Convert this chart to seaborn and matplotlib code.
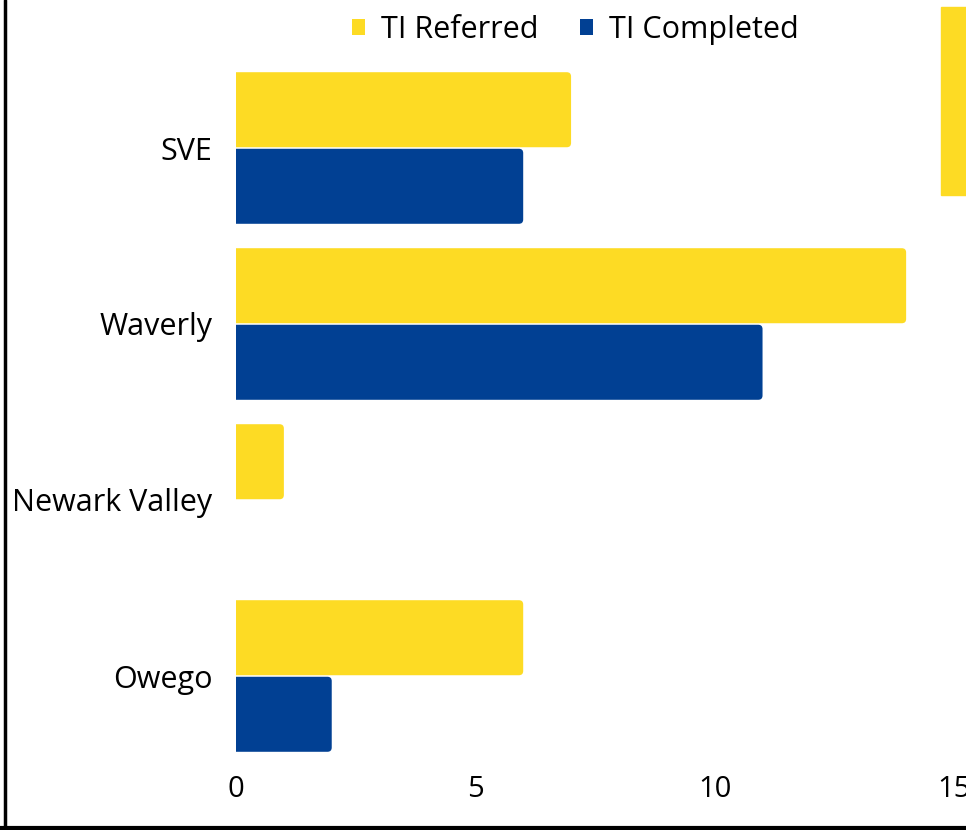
import pandas as pd
import seaborn as sns
import matplotlib.pyplot as plt
from matplotlib.patches import Rectangle, FancyBboxPatch
from matplotlib.lines import Line2D

schools = ["SVE", "Waverly", "Newark Valley", "Owego"]
referred = [7, 14, 1, 6]
completed = [6, 11, 0, 2]
series = ["TI Referred", "TI Completed"]

df = pd.DataFrame({
    "School": schools * 2,
    "Count": referred + completed,
    "Series": [series[0]] * len(schools) + [series[1]] * len(schools),
})

sns.set_style("white")
plt.rcParams['font.family'] = ['Open Sans', 'DejaVu Sans']
plt.rcParams['text.color'] = 'black'

fig = plt.figure(figsize=(9.66, 8.3), dpi=100)
ax = fig.add_axes([236 / 966, 1 - 764 / 830, (954 - 236) / 966, (764 - 60) / 830])

sns.barplot(data=df, y="School", x="Count", hue="Series", orient="h",
            palette=["#FDDB24", "#014093"], saturation=1, width=0.87, gap=0.02,
            linewidth=0, ax=ax, legend=True)

ax.set_xlim(0, 15)

# round the right-hand corners of the bars
for bar in list(ax.patches):
    if bar.get_width() <= 0:
        continue
    x, y = bar.get_x(), bar.get_y()
    w, h = bar.get_width(), bar.get_height()
    rounded = FancyBboxPatch((x - 0.3, y), w + 0.3, h,
                             boxstyle="round,pad=0,rounding_size=0.09",
                             mutation_aspect=0.27, facecolor=bar.get_facecolor(),
                             linewidth=0)
    ax.add_patch(rounded)
    bar.set_visible(False)

ax.set_xticks([0, 5, 10, 15])
ax.set_xlabel("")
ax.set_ylabel("")
ax.tick_params(axis="x", labelsize=21, pad=8, length=0, labelcolor="black")
ax.tick_params(axis="y", labelsize=22, pad=17, length=0, labelcolor="black")
for s in ax.spines.values():
    s.set_visible(False)

ax.legend(loc="center", bbox_to_anchor=(575 / 966, 1 - 30 / 830),
          bbox_transform=fig.transFigure, ncol=2, frameon=False,
          fontsize=22, handlelength=0.45, handleheight=0.45,
          handletextpad=0.5, columnspacing=1.35)

# frame lines and decorative block
fig.add_artist(Line2D([5 / 966, 5 / 966], [0, 1], color="black", lw=2.5))
fig.add_artist(Line2D([0, 1], [2 / 830, 2 / 830], color="black", lw=3))
fig.add_artist(Rectangle((941 / 966, 1 - 195 / 830), 30 / 966, 188 / 830,
                         color="#FDDB24", transform=fig.transFigure))

fig.savefig("out.png", dpi=100)
